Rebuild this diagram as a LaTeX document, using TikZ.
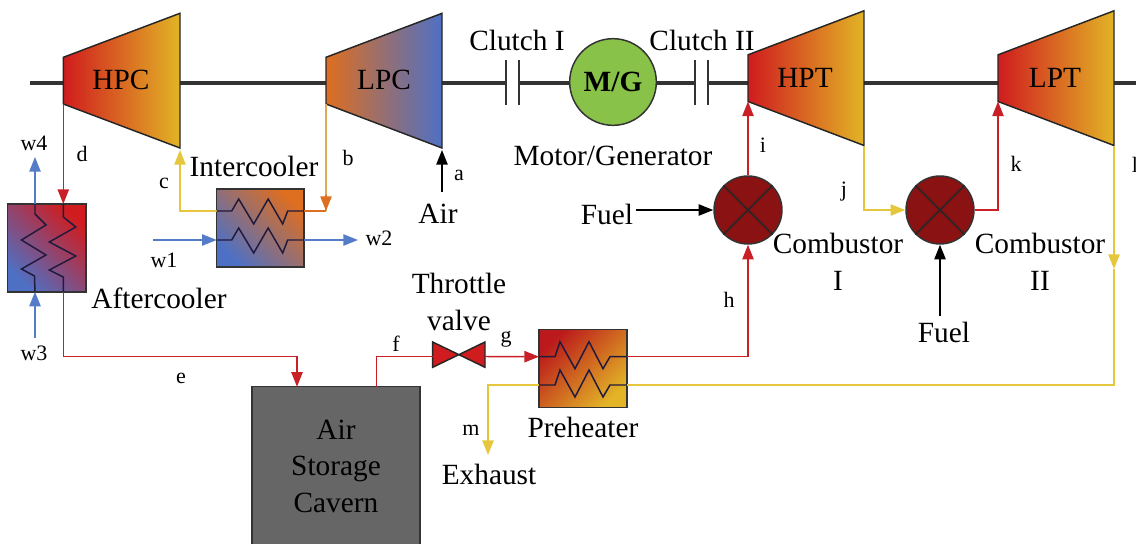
\documentclass[tikz,border=0pt]{standalone}
\usepackage{fontspec}
\setmainfont{Liberation Serif}
\usetikzlibrary{positioning,arrows.meta}
\definecolor{hotred}{RGB}{208,28,30}
\definecolor{midorange}{RGB}{222,110,32}
\definecolor{warmgold}{RGB}{226,180,38}
\definecolor{coolblue}{RGB}{78,112,196}
\definecolor{mauve}{RGB}{165,95,125}
\definecolor{flowred}{RGB}{200,32,38}
\definecolor{flowgold}{RGB}{230,198,60}
\definecolor{flowtan}{RGB}{222,170,90}
\definecolor{flowblue}{RGB}{84,124,200}
\definecolor{burnred}{RGB}{138,18,18}
\definecolor{motorgreen}{RGB}{136,194,72}
\definecolor{cavegray}{RGB}{102,102,102}
\definecolor{coilnavy}{RGB}{32,26,60}
\tikzset{
  bigtext/.style={font=\fontsize{22}{27.4}\selectfont,inner sep=0pt,align=center},
  smalltext/.style={font=\fontsize{16.5}{20}\selectfont,inner sep=0pt},
  boxnode/.style={draw=black!80,line width=1.1pt,inner sep=0pt},
  flow/.style={line width=1.1pt,draw=#1,-{Triangle[length=11pt,width=8.5pt,color=#1]}},
  pipe/.style={line width=1.1pt,draw=#1},
  coil/.style={line width=1.1pt,draw=coilnavy},
}
\begin{document}
\begin{tikzpicture}[x=0.75pt,y=-0.75pt]
  \useasboundingbox (0,0) rectangle (1136,543);
  % shaft and clutches
  \coordinate (shaftstart) at (30,82.7);
  \coordinate (shaftend) at (1140,82.7);
  \coordinate (clutchAa) at (506,82.7);
  \coordinate (clutchAb) at (519,82.7);
  \coordinate (clutchBa) at (695,82.7);
  \coordinate (clutchBb) at (708,82.7);
  \draw[line width=3pt,black!80] (shaftstart) -- (clutchAa);
  \draw[line width=3pt,black!80] (clutchAb) -- (clutchBa);
  \draw[line width=3pt,black!80] (clutchBb) -- (shaftend);
  \foreach \c in {clutchAa,clutchAb,clutchBa,clutchBb}
    \draw[line width=1.6pt,black!80] (\c) ++(0,-22.7) -- ++(0,45);
  % compressors and turbines
  \foreach \nm/\xa/\xb/\dy/\cl/\cm/\cr in {
      hpc/63.3/180/0/hotred/midorange/warmgold,
      lpc/326/442/0/midorange/mauve/coolblue,
      hpt/748/864/-2.5/hotred/midorange/warmgold,
      lpt/998/1114/-2.5/hotred/midorange/warmgold}{
    \coordinate (\nm tl) at (\xa,57.3+\dy);
    \coordinate (\nm tr) at (\xb,13.3+\dy);
    \coordinate (\nm br) at (\xb,148+\dy);
    \coordinate (\nm bl) at (\xa,104+\dy);
    \draw[line width=1.1pt,black!85,left color=\cl,middle color=\cm,right color=\cr]
      (\nm tl) -- (\nm tr) -- (\nm br) -- (\nm bl) -- cycle;
  }
  \node[bigtext] (hpclabel) at (121,80) {HPC};
  \node[bigtext] (lpclabel) at (384,80) {LPC};
  \node[bigtext] (hptlabel) at (805,78) {HPT};
  \node[bigtext] (lptlabel) at (1055,78) {LPT};
  \node[boxnode,circle,minimum size=65pt,fill=motorgreen] (motor) at (613,82) {\fontsize{22}{26}\selectfont\bfseries M/G};
  \node[bigtext] (clutchone) at (517,40) {Clutch I};
  \node[bigtext] (clutchtwo) at (702,40) {Clutch II};
  \node[bigtext] (motorlabel) at (613,156) {Motor/Generator};
  % combustors
  \foreach \nm/\cx in {combA/748,combB/940}{
    \node[boxnode,circle,minimum size=51pt,fill=burnred] (\nm) at (\cx,210) {};
    \draw[line width=1.1pt,black!85] (\nm.45) -- (\nm.225) (\nm.135) -- (\nm.315);
  }
  \node[bigtext] (combAlabel) at (838,262) {Combustor\\I};
  \node[bigtext] (combBlabel) at (1040,262) {Combustor\\II};
  % heat exchangers and cavern
  \node[boxnode,minimum width=65.5pt,minimum height=58.3pt,left color=coolblue,right color=midorange,shading angle=135] (intercooler) at (260.4,227.9) {};
  \node[boxnode,minimum width=59pt,minimum height=65.8pt,left color=coolblue,right color=hotred,shading angle=135] (aftercooler) at (46.7,247.9) {};
  \node[boxnode,minimum width=65.8pt,minimum height=58.5pt,left color=hotred!90!black,right color=warmgold,shading angle=45] (preheater) at (582.9,368.3) {};
  \node[boxnode,minimum width=126.2pt,minimum height=119pt,fill=cavegray] (cavern) at (335.9,466) {};
  \node[bigtext] (cavernlabel) at (336,466) {Air\\Storage\\Cavern};
  \node[bigtext] (iclabel) at (254,166) {Intercooler};
  \node[bigtext] (aclabel) at (159,298) {Aftercooler};
  \node[bigtext] (phlabel) at (583,427) {Preheater};
  \node[bigtext] (valvelabel) at (459,302) {Throttle\\valve};
  % throttle valve
  \coordinate (valvein) at (432.7,356.5);
  \coordinate (valveout) at (485,356.5);
  \draw[line width=1.1pt,black!85,fill=hotred] (432.7,342) -- (485,367.3) -- (485,342) -- (432.7,367.3) -- cycle;
  % ports
  \coordinate (icAw) at (216.7,211);
  \coordinate (icAe) at (304,211);
  \coordinate (icBw) at (216.7,240);
  \coordinate (icBe) at (304,240);
  \coordinate (acAn) at (35,204);
  \coordinate (acAs) at (35,291.7);
  \coordinate (acBn) at (63.3,204);
  \coordinate (acBs) at (63.3,291.7);
  \coordinate (phAw) at (539,356.7);
  \coordinate (phAe) at (626.7,356.7);
  \coordinate (phBw) at (539,385);
  \coordinate (phBe) at (626.7,385);
  % flows
  \coordinate (airin) at (442,192);
  \coordinate (airtip) at (442,150);
  \draw[flow=black] (airin) -- (airtip);
  \node[bigtext] (airlabel) at (438,214) {Air};
  \coordinate (btip) at (326,211);
  \draw[line width=1.1pt,flowtan] (lpcbl) -- (btip);
  \draw[flow=midorange] (326,195) -- (btip);
  \draw[pipe=midorange] (icAe) -- (btip);
  \coordinate (ctip) at (180,150);
  \draw[flow=flowgold] (icAw) -| (ctip);
  \coordinate (wonein) at (153,240);
  \coordinate (wtwoout) at (358,240);
  \draw[flow=flowblue] (wonein) -- (icBw);
  \draw[flow=flowblue] (icBe) -- (wtwoout);
  \draw[flow=flowred] (hpcbl) -- (acBn);
  \coordinate (wfourout) at (35,157);
  \coordinate (wthreein) at (35,338);
  \draw[flow=flowblue] (acAn) -- (wfourout);
  \draw[flow=flowblue] (wthreein) -- (acAs);
  \coordinate (cavernin) at (297,386.7);
  \draw[flow=flowred] (acBs) |- (150,356.7) -| (cavernin);
  \coordinate (cavernout) at (376.7,386.7);
  \draw[pipe=flowred] (cavernout) |- (valvein);
  \draw[flow=flowred] (valveout) -- (phAw);
  \draw[flow=flowred] (phAe) -| (combA.south);
  \coordinate (hpttip) at (748,101.5);
  \coordinate (lpttip) at (998,101.5);
  \draw[flow=flowred] (combA.north) -- (hpttip);
  \draw[flow=flowred] (combB.east) -| (lpttip);
  \draw[flow=flowgold] (hptbr) |- (combB.west);
  \coordinate (lptmid) at (1114,269);
  \draw[flow=flowgold] (lptbr) -- (lptmid);
  \coordinate (exhaustout) at (488,455);
  \draw[pipe=flowgold] (lptmid) |- (phBe);
  \draw[flow=flowgold] (phBw) -| (exhaustout);
  \coordinate (fuelAin) at (636,210);
  \coordinate (fuelBin) at (940,316);
  \draw[flow=black] (fuelAin) -- (combA.west);
  \draw[flow=black] (fuelBin) -- (combB.south);
  \node[bigtext] (fuelAlabel) at (607,214) {Fuel};
  \node[bigtext] (fuelBlabel) at (944,332) {Fuel};
  \node[bigtext] (exhaustlabel) at (489,474) {Exhaust};
  % coils
  \foreach \a/\b in {icAw/icAe,icBw/icBe}
    \draw[coil] (\a) -- ++(15,0) -- ++(7,-12) -- ++(15,25) -- ++(14.5,-25) -- ++(14.5,25) -- ++(5,-13) -- (\b);
  \foreach \a/\b in {phAw/phAe,phBw/phBe}
    \draw[coil] (\a) -- ++(16,0) -- ++(5,-15) -- ++(15,27) -- ++(14,-27) -- ++(14,27) -- ++(7,-12) -- (\b);
  \draw[coil] (acAn) -- ++(0,10) -- ++(11,11) -- ++(-24.5,15) -- ++(24.5,15) -- ++(-24.5,14) -- ++(13,7) -- (acAs);
  \draw[coil] (acBn) -- ++(0,13) -- ++(12.5,10) -- ++(-26.5,15) -- ++(26.5,14) -- ++(-26.5,14) -- ++(14,7) -- (acBs);
  % state labels
  \foreach \nm/\x/\y in {a/459/175,b/348/158,c/164/183,d/82/154,e/181/378,f/396/344,g/506/339,h/729/300,i/763/145,j/844/192,k/1016/164,l/1135/165,m/471/430}
    \node[smalltext] (state\nm) at (\x,\y) {\nm};
  \node[smalltext] (wone) at (164,260) {w1};
  \node[smalltext] (wtwo) at (379,238) {w2};
  \node[smalltext] (wthree) at (34,353) {w3};
  \node[smalltext] (wfour) at (34,143) {w4};
\end{tikzpicture}
\end{document}
